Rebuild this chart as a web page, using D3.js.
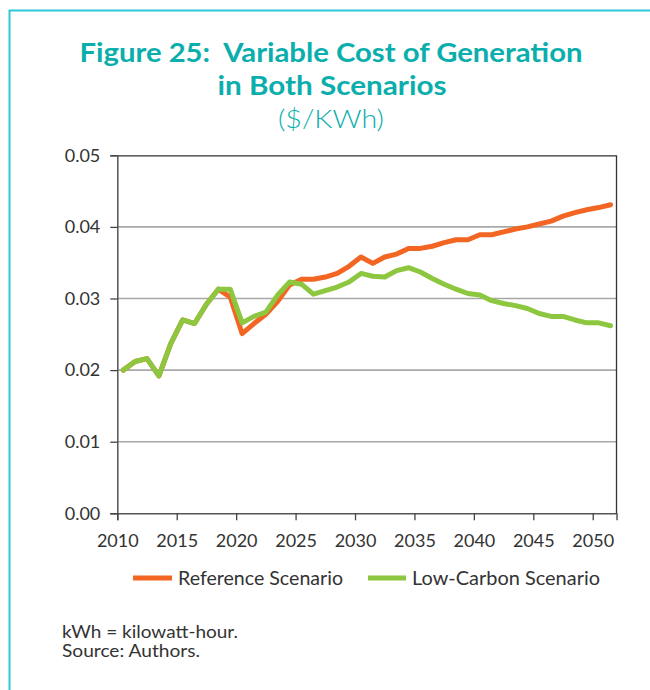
<!DOCTYPE html>
<html>
<head>
<meta charset="utf-8">
<script src="https://cdn.jsdelivr.net/npm/d3@7"></script>
<style>
  body { margin: 0; background: #fff; }
  svg { display: block; font-family: Lato, "Open Sans", sans-serif; }
</style>
</head>
<body>
<div id="chart"></div>
<script>
var years = d3.range(2010, 2052);

var referenceCost = [0.0200, 0.0212, 0.0216, 0.0192, 0.0237, 0.0270, 0.0265, 0.0292, 0.0313, 0.0302,
                     0.0251, 0.0265, 0.0278, 0.0296, 0.0319, 0.0327, 0.0327, 0.0330, 0.0335, 0.0345,
                     0.0358, 0.0349, 0.0358, 0.0362, 0.0370, 0.0370, 0.0373, 0.0378, 0.0382, 0.0382,
                     0.0389, 0.0389, 0.0393, 0.0397, 0.0400, 0.0404, 0.0408, 0.0415, 0.0420, 0.0424,
                     0.0427, 0.0431];

var lowCarbonCost = [0.0200, 0.0212, 0.0216, 0.0192, 0.0237, 0.0270, 0.0265, 0.0292, 0.0313, 0.0313,
                     0.0266, 0.0275, 0.0281, 0.0305, 0.0323, 0.0320, 0.0306, 0.0311, 0.0316, 0.0323,
                     0.0335, 0.0331, 0.0330, 0.0339, 0.0343, 0.0337, 0.0328, 0.0320, 0.0313, 0.0307,
                     0.0305, 0.0297, 0.0293, 0.0290, 0.0286, 0.0279, 0.0275, 0.0275, 0.0270, 0.0266,
                     0.0266, 0.0262];

var xTicks = [2010, 2015, 2020, 2025, 2030, 2035, 2040, 2045, 2050];
var yTicks = [0, 0.01, 0.02, 0.03, 0.04, 0.05];

var svgWidth = 650;
var svgHeight = 690;

var margin = { top: 155.3, right: 33.5, bottom: 176.7, left: 117.3 };
var width = svgWidth - margin.left - margin.right;
var height = svgHeight - margin.top - margin.bottom;

var svg = d3.select("#chart")
  .append("svg")
  .attr("width", svgWidth)
  .attr("height", svgHeight);

svg.append("rect")
  .attr("width", svgWidth)
  .attr("height", svgHeight)
  .attr("fill", "#fff");

// cyan frame (top and left)
svg.append("path")
  .attr("d", "M9.5,690 V10.5 H650")
  .attr("fill", "none")
  .attr("stroke", "#2cc8d8")
  .attr("stroke-width", 2);

// title
var titleColor = "#0aaeac";
svg.append("text")
  .attr("x", 331).attr("y", 62)
  .attr("text-anchor", "middle")
  .attr("fill", titleColor)
  .attr("font-size", 27).attr("font-weight", 700)
  .attr("textLength", 503).attr("lengthAdjust", "spacingAndGlyphs")
  .attr("xml:space", "preserve")
  .text("Figure 25:  Variable Cost of Generation");

svg.append("text")
  .attr("x", 332).attr("y", 95)
  .attr("text-anchor", "middle")
  .attr("fill", titleColor)
  .attr("font-size", 27).attr("font-weight", 700)
  .attr("textLength", 229).attr("lengthAdjust", "spacingAndGlyphs")
  .text("in Both Scenarios");

svg.append("text")
  .attr("x", 331).attr("y", 128)
  .attr("text-anchor", "middle")
  .attr("fill", titleColor)
  .attr("font-size", 25).attr("font-weight", 300)
  .attr("textLength", 106).attr("lengthAdjust", "spacingAndGlyphs")
  .text("($/KWh)");

var chartGroup = svg.append("g")
  .attr("transform", `translate(${margin.left}, ${margin.top})`);

var x = d3.scaleLinear().domain([2010, 2052]).range([0, width]);
var y = d3.scaleLinear().domain([0, 0.05]).range([height, 0]);
var half = (x(2011) - x(2010)) / 2;

// gridlines
chartGroup.append("g")
  .selectAll("line")
  .data(yTicks.filter(d => d > 0 && d < 0.05))
  .enter()
  .append("line")
  .attr("x1", 0).attr("x2", width)
  .attr("y1", d => y(d)).attr("y2", d => y(d))
  .attr("stroke", "#a8a8a8")
  .attr("stroke-width", 1.6);

// plot frame top and right
chartGroup.append("path")
  .attr("d", `M0,0.5 H${width} V${height}`)
  .attr("fill", "none")
  .attr("stroke", "#333")
  .attr("stroke-width", 1.3);

var leftAxis = d3.axisLeft(y)
  .tickValues(yTicks)
  .tickFormat(d3.format(".2f"))
  .tickSize(7)
  .tickPadding(10);

var bottomAxis = d3.axisBottom(x)
  .tickValues(xTicks)
  .tickFormat(d3.format("d"))
  .tickSize(7)
  .tickPadding(14);

var yAxis = chartGroup.append("g").call(leftAxis);
var xAxis = chartGroup.append("g")
  .attr("transform", `translate(0, ${height})`)
  .call(bottomAxis);

[yAxis, xAxis].forEach(function(ax) {
  ax.select(".domain").attr("stroke", "#555").attr("stroke-width", 1.5);
  ax.selectAll(".tick line").attr("stroke", "#444").attr("stroke-width", 1.3);
  ax.selectAll("text")
    .attr("fill", "#333")
    .attr("font-size", 18)
    .attr("font-family", "Lato, sans-serif");
});

var line = d3.line()
  .x((d, i) => x(years[i]) + half)
  .y(d => y(d))
  .curve(d3.curveLinear);

chartGroup.append("path")
  .datum(referenceCost)
  .attr("d", line)
  .attr("fill", "none")
  .attr("stroke", "#f26522")
  .attr("stroke-width", 5)
  .attr("stroke-linejoin", "round")
  .attr("stroke-linecap", "round");

chartGroup.append("path")
  .datum(lowCarbonCost)
  .attr("d", line)
  .attr("fill", "none")
  .attr("stroke", "#8dc63f")
  .attr("stroke-width", 5)
  .attr("stroke-linejoin", "round")
  .attr("stroke-linecap", "round");

// legend
var legendItems = [
  { name: "Reference Scenario", color: "#f26522", x0: 133, x1: 172, tx: 178, tw: 165 },
  { name: "Low-Carbon Scenario", color: "#8dc63f", x0: 368, x1: 406, tx: 412, tw: 188 }
];

var legend = svg.append("g");
legend.selectAll("line")
  .data(legendItems)
  .enter()
  .append("line")
  .attr("x1", d => d.x0).attr("x2", d => d.x1)
  .attr("y1", 578).attr("y2", 578)
  .attr("stroke", d => d.color)
  .attr("stroke-width", 5);

legend.selectAll("text")
  .data(legendItems)
  .enter()
  .append("text")
  .attr("x", d => d.tx).attr("y", 585)
  .attr("fill", "#333")
  .attr("font-size", 20)
  .attr("textLength", d => d.tw)
  .attr("lengthAdjust", "spacingAndGlyphs")
  .text(d => d.name);

// notes
svg.append("text")
  .attr("x", 62).attr("y", 638)
  .attr("fill", "#333").attr("font-size", 17.5)
  .attr("textLength", 176).attr("lengthAdjust", "spacingAndGlyphs")
  .text("kWh = kilowatt-hour.");

svg.append("text")
  .attr("x", 62).attr("y", 657)
  .attr("fill", "#333").attr("font-size", 17.5)
  .attr("textLength", 138).attr("lengthAdjust", "spacingAndGlyphs")
  .text("Source: Authors.");
</script>
</body>
</html>
